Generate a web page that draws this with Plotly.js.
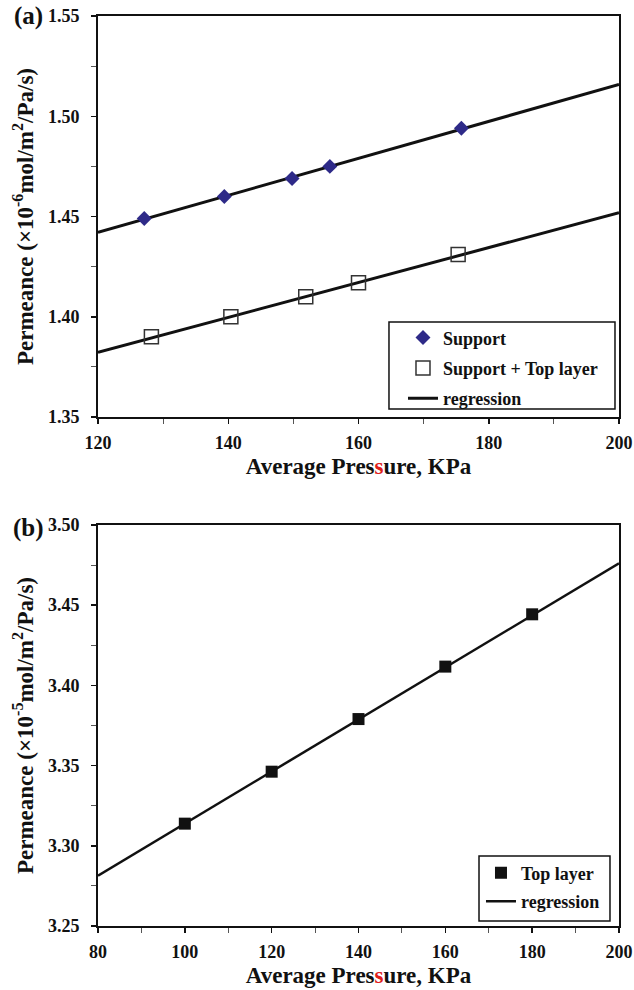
<!DOCTYPE html>
<html>
<head>
<meta charset="utf-8">
<script src="https://cdn.plot.ly/plotly-3.0.1.min.js"></script>
<style>html,body{margin:0;padding:0;background:#fff;}#chart{width:634px;height:990px;}</style>
</head>
<body>
<div id="chart"></div>
<script>
// Panel (a)
const supportX = [127.1, 139.4, 149.8, 155.6, 175.8];
const supportY = [1.449, 1.460, 1.469, 1.475, 1.494];
const supTopX = [128.2, 140.4, 151.9, 160.0, 175.3];
const supTopY = [1.390, 1.400, 1.410, 1.417, 1.431];
const regSupportX = [120, 200];
const regSupportY = [1.4421, 1.5159];
const regSupTopX = [120, 200];
const regSupTopY = [1.3823, 1.4519];
// Panel (b)
const topLayerX = [100, 120, 140, 160, 180];
const topLayerY = [3.3138, 3.3462, 3.3790, 3.4117, 3.4443];
const regTopX = [80, 200];
const regTopY = [3.2814, 3.4761];

const FONT = "'Liberation Serif', 'Times New Roman', serif";
const xTitle = "Average Pres<span style='color:#e0201b'>s</span>ure, KPa";

const traces = [
  {x: regSupportX, y: regSupportY, mode: 'lines', name: 'regression', line: {color: '#111', width: 3},
   xaxis: 'x', yaxis: 'y', legend: 'legend', legendgroup: 'g3', legendrank: 3},
  {x: regSupTopX, y: regSupTopY, mode: 'lines', name: 'regression', line: {color: '#111', width: 3},
   xaxis: 'x', yaxis: 'y', showlegend: false},
  {x: supportX, y: supportY, mode: 'markers', name: 'Support',
   marker: {symbol: 'diamond', size: 11.5, color: '#2E2A88'},
   xaxis: 'x', yaxis: 'y', legend: 'legend', legendgroup: 'g1', legendrank: 1},
  {x: supTopX, y: supTopY, mode: 'markers', name: 'Support + Top layer',
   marker: {symbol: 'square-open', size: 14, color: '#333', line: {width: 1.5}},
   xaxis: 'x', yaxis: 'y', legend: 'legend', legendgroup: 'g2', legendrank: 2},
  {x: regTopX, y: regTopY, mode: 'lines', name: 'regression', line: {color: '#111', width: 2.5},
   xaxis: 'x2', yaxis: 'y2', legend: 'legend2', legendgroup: 'h2', legendrank: 2},
  {x: topLayerX, y: topLayerY, mode: 'markers', name: 'Top layer',
   marker: {symbol: 'square', size: 12, color: '#111'},
   xaxis: 'x2', yaxis: 'y2', legend: 'legend2', legendgroup: 'h1', legendrank: 1}
];

function xax(range, anchor, standoff) {
  return {
    range: range, anchor: anchor, dtick: 20, tick0: 0,
    ticks: 'outside', ticklen: 5, tickwidth: 1.5, tickcolor: '#111', ticklabelstandoff: 3,
    minor: {dtick: 10, ticks: 'outside', ticklen: 5, tickwidth: 1, tickcolor: '#555', showgrid: false},
    showline: true, linecolor: '#111', linewidth: 2, mirror: true,
    showgrid: false, zeroline: false, fixedrange: true,
    tickfont: {family: FONT, size: 18, color: '#111', weight: 'bold'},
    title: {text: xTitle, standoff: standoff, font: {family: FONT, size: 23, color: '#111', weight: 'bold'}},
    automargin: false
  };
}
function yax(range, anchor, domain, titleText) {
  return {
    range: range, anchor: anchor, domain: domain, dtick: 0.05, tick0: 0, tickformat: '.2f',
    ticks: 'outside', ticklen: 5, tickwidth: 1.5, tickcolor: '#111', ticklabelstandoff: 8,
    minor: {dtick: 0.025, ticks: 'outside', ticklen: 5, tickwidth: 1, tickcolor: '#555', showgrid: false},
    showline: true, linecolor: '#111', linewidth: 2, mirror: true,
    showgrid: false, zeroline: false, fixedrange: true,
    tickfont: {family: FONT, size: 18, color: '#111', weight: 'bold'},
    title: {text: titleText, standoff: 8, font: {family: FONT, size: 23, color: '#111', weight: 'bold'}},
    automargin: false
  };
}

const layout = {
  width: 634, height: 990,
  margin: {l: 98, r: 15, t: 16, b: 64},
  paper_bgcolor: '#fff', plot_bgcolor: '#fff',
  showlegend: true,
  xaxis: xax([120, 200], 'y', 6),
  yaxis: yax([1.35, 1.55], 'x', [0.5593, 1], 'Permeance (×10<sup>-6</sup>mol/m<sup>2</sup>/Pa/s)'),
  xaxis2: xax([80, 200], 'y2', 6),
  yaxis2: yax([3.25, 3.50], 'x2', [0, 0.4407], 'Permeance (×10<sup>-5</sup>mol/m<sup>2</sup>/Pa/s)'),
  legend: {
    x: 0.5854, y: 0.6667, xanchor: 'left', yanchor: 'top',
    bgcolor: 'rgba(0,0,0,0)', borderwidth: 0, tracegroupgap: 4, traceorder: 'grouped',
    font: {family: FONT, size: 18, color: '#111', weight: 'bold'}
  },
  legend2: {
    x: 0.7351, y: 0.0785, xanchor: 'left', yanchor: 'top',
    bgcolor: 'rgba(0,0,0,0)', borderwidth: 0, tracegroupgap: 2, traceorder: 'grouped',
    font: {family: FONT, size: 18, color: '#111', weight: 'bold'}
  },
  shapes: [
    {type: 'rect', xref: 'paper', yref: 'paper', x0: 0.5585, x1: 0.9923, y0: 0.5681, y1: 0.6637,
     line: {color: '#111', width: 1.5}, fillcolor: 'rgba(0,0,0,0)', layer: 'below'},
    {type: 'rect', xref: 'paper', yref: 'paper', x0: 0.7313, x1: 0.9827, y0: 0.00549, y1: 0.0769,
     line: {color: '#111', width: 1.5}, fillcolor: 'rgba(0,0,0,0)', layer: 'below'}
  ],
  annotations: [
    {text: '(a)', xref: 'paper', yref: 'paper', x: -0.134, y: 1.0, xanchor: 'center', yanchor: 'middle',
     showarrow: false, font: {family: FONT, size: 25, color: '#111', weight: 'bold'}},
    {text: '(b)', xref: 'paper', yref: 'paper', x: -0.134, y: 0.437, xanchor: 'center', yanchor: 'middle',
     showarrow: false, font: {family: FONT, size: 25, color: '#111', weight: 'bold'}}
  ]
};

Plotly.newPlot('chart', traces, layout, {displayModeBar: false, staticPlot: true});
</script>
</body>
</html>
